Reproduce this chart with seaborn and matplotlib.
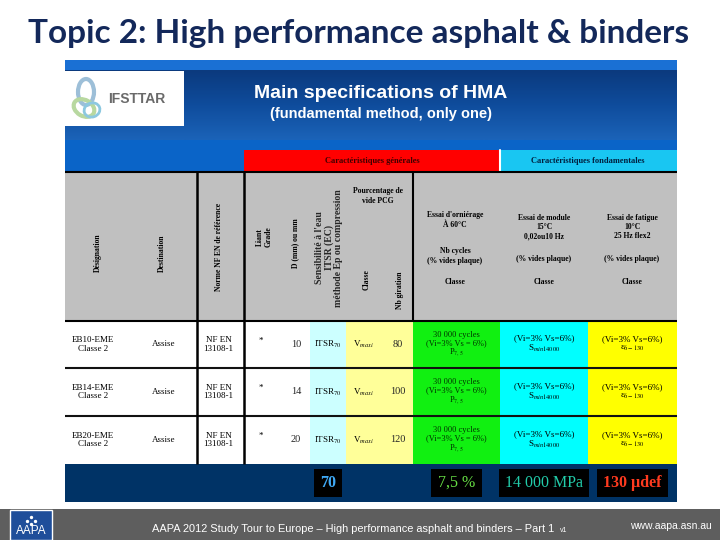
import numpy as np
import matplotlib
matplotlib.use("Agg")
import matplotlib.pyplot as plt
import seaborn as sns
from matplotlib.patches import Rectangle, Ellipse
from matplotlib.colors import ListedColormap, LinearSegmentedColormap

# contenu du tableau (3 enrobés EME classe 2)
designations = ["EB10-EME\nClasse 2", "EB14-EME\nClasse 2", "EB20-EME\nClasse 2"]
destinations = ["Assise", "Assise", "Assise"]
normes = ["NF EN\n13108-1", "NF EN\n13108-1", "NF EN\n13108-1"]
liants = ["*", "*", "*"]
d_max = [10, 14, 20]
itsr = ["ITSR$_{70}$", "ITSR$_{70}$", "ITSR$_{70}$"]
vides = ["V$_{maxi}$", "V$_{maxi}$", "V$_{maxi}$"]
n_giration = [80, 100, 120]
orniere = ["30 000 cycles\n(Vi=3% Vs = 6%)\nP$_{7,5}$"] * 3
module = ["(Vi=3% Vs=6%)\nS$_{min14000}$"] * 3
fatigue = ["(Vi=3% Vs=6%)\nε$_{6-130}$"] * 3

# seuils en bas du tableau
seuils = ["70", "7,5 %", "14 000 MPa", "130 µdef"]
seuil_cols = [5, 7, 8, 9]

# textes
titre = "Topic 2: High performance asphalt & binders"
titre_tab = "Main specifications of HMA"
sous_titre = "(fundamental method, only one)"
pied = "AAPA 2012 Study Tour to Europe – High performance asphalt and binders – Part 1"

# mise en page (pixels)
col_edges = [65, 130, 197, 244, 278, 310, 346, 413, 500, 588, 677]
row_edges = [321, 368, 416, 464]
col_codes = [0, 0, 0, 0, 0, 1, 2, 3, 4, 5]
cell_colours = ["#FFFFFF", "#CCFFFF", "#FFFF99", "#11F011", "#00FFFF", "#FFFF00"]
seuil_colours = ["#3FA9F5", "#66DD44", "#22CCAA", "#FF3B1F"]

sns.set_theme(style="white")
plt.rcParams['font.family'] = ['Liberation Serif', 'DejaVu Sans']
plt.rcParams['mathtext.fontset'] = 'stix'

fig = plt.figure(figsize=(7.2, 5.4), dpi=100)
ax = fig.add_axes([0, 0, 1, 1])
ax.set_facecolor("white")

# titre de la diapo
ax.text(359, 33, titre, fontsize=24, fontweight='bold', color='#13285A',
        family=['Lato', 'DejaVu Sans'], ha='center', va='center')

# panneau bleu
ax.add_patch(Rectangle((65, 60), 612, 442, fc='#0A64C8', ec='none'))
ax.add_patch(Rectangle((65, 60), 612, 10, fc='#1A70D4', ec='none'))
grad = LinearSegmentedColormap.from_list('bandeau', ['#0B3A7E', '#0F4C9C', '#1B63B8'])
ax.imshow(np.linspace(0, 1, 60).reshape(-1, 1), extent=[65, 677, 140, 70],
          cmap=grad, aspect='auto', origin='upper', zorder=1)

# logo IFSTTAR
ax.add_patch(Rectangle((65, 71), 119, 55, fc='white', ec='none', zorder=2))
ax.add_patch(Ellipse((86, 92), 16, 26, fill=False, ec='#9DBFD8', lw=3, zorder=3))
ax.add_patch(Ellipse((84, 108), 22, 16, angle=30, fill=False, ec='#B8D8A0', lw=3, zorder=3))
ax.add_patch(Ellipse((92, 110), 16, 14, angle=-20, fill=False, ec='#8CC8E0', lw=2, zorder=3))
ax.text(137, 99, "IFSTTAR", fontsize=10, fontweight='bold', color='#6A6A6A',
        family=['Liberation Sans'], ha='center', va='center', zorder=3)

ax.text(381, 93, titre_tab, fontsize=14, fontweight='bold', color='white',
        family=['Liberation Sans'], ha='center', va='center', zorder=3)
ax.text(381, 114, sous_titre, fontsize=10.5, fontweight='bold', color='white',
        family=['Liberation Sans'], ha='center', va='center', zorder=3)

# bandeaux rouge / cyan
ax.add_patch(Rectangle((244, 150), 256, 22, fc='#FF0000', ec='none', zorder=2))
ax.add_patch(Rectangle((500, 150), 177, 22, fc='#19C6F2', ec='none', zorder=2))
ax.plot([500, 500], [150, 172], color='white', lw=1.5, zorder=3)
ax.text(372, 161, "Caractéristiques générales", fontsize=6, fontweight='bold',
        color='#400000', ha='center', va='center', zorder=3)
ax.text(588, 161, "Caractéristiques fondamentales", fontsize=6, fontweight='bold',
        color='#002040', ha='center', va='center', zorder=3)

# en-tête gris
ax.add_patch(Rectangle((65, 172), 612, 149, fc='#C0C0C0', ec='none', zorder=2))
hkw = dict(fontsize=5.5, fontweight='bold', color='black', ha='center', va='center', zorder=4)
ax.text(98, 253, "Désignation", rotation=90, **hkw)
ax.text(162, 253, "Destination", rotation=90, **hkw)
ax.text(219, 247, "Norme NF EN de référence", rotation=90, **hkw)
ax.text(264, 237, "Liant\nGrade", rotation=90, **hkw)
ax.text(295, 243, "D (mm) ou mm", rotation=90, **hkw)
ax.text(329, 248, "Sensibilité à l'eau\nITSR (EC)\nméthode Ep ou compression",
        rotation=90, fontsize=7, fontweight='bold', ha='center', va='center',
        linespacing=1.0, zorder=4)
ax.text(378, 196, "Pourcentage de\nvide PCG", **hkw)
ax.text(367, 280, "Classe", rotation=90, **hkw)
ax.text(400, 290, "Nb giration", rotation=90, **hkw)
ax.text(455, 220, "Essai d'orniérage\nÀ 60°C", **hkw)
ax.text(455, 256, "Nb cycles\n(% vides plaque)", **hkw)
ax.text(455, 282, "Classe", **hkw)
ax.text(544, 227, "Essai de module\n15°C\n0,02ou10 Hz", **hkw)
ax.text(544, 259, "(% vides plaque)", **hkw)
ax.text(544, 282, "Classe", **hkw)
ax.text(632, 227, "Essai de fatigue\n10°C\n25 Hz flex2", **hkw)
ax.text(632, 259, "(% vides plaque)", **hkw)
ax.text(632, 282, "Classe", **hkw)

# cellules de données
codes = np.tile(col_codes, (len(designations), 1))
ax.pcolormesh(col_edges, row_edges, codes, cmap=ListedColormap(cell_colours),
              vmin=-0.5, vmax=len(cell_colours) - 0.5, zorder=2)

centres = [(a + b) / 2 for a, b in zip(col_edges[:-1], col_edges[1:])]
tkw = dict(fontsize=6.5, color='black', ha='center', va='center', zorder=4, linespacing=1.1)
for i in range(len(designations)):
    y = (row_edges[i] + row_edges[i + 1]) / 2
    ax.text(93, y, designations[i], **tkw)
    ax.text(centres[1], y, destinations[i], **tkw)
    ax.text(centres[2] - 2, y, normes[i], **tkw)
    ax.text(centres[3], y - 4, liants[i], **tkw)
    ax.text(centres[4] + 2, y, str(d_max[i]), fontsize=7.5, ha='center', va='center', zorder=4)
    ax.text(centres[5], y, itsr[i], **tkw)
    ax.text(363, y, vides[i], **tkw)
    ax.text(398, y, str(n_giration[i]), fontsize=7.5, ha='center', va='center', zorder=4)
    ax.text(centres[7], y, orniere[i], fontsize=6, color='#003300', ha='center',
            va='center', zorder=4, linespacing=1.0)
    ax.text(centres[8], y, module[i], **tkw)
    ax.text(centres[9], y, fatigue[i], **tkw)

# traits du tableau
ax.hlines([172, 321], 65, 677, color='black', lw=1.5, zorder=5)
ax.hlines(row_edges[1:3], 65, 677, color='#111111', lw=1.5, zorder=5)
ax.vlines([197, 244], 172, 464, color='black', lw=1.8, zorder=5)
ax.vlines([413], 172, 321, color='black', lw=1.5, zorder=5)

# bandeau des seuils
ax.add_patch(Rectangle((65, 464), 612, 38, fc='#003366', ec='none', zorder=2))
for s, c, col in zip(seuils, seuil_cols, seuil_colours):
    ax.text(centres[c], 483, s, fontsize=11.5, color=col,
            fontweight='bold' if s in ("70", "130 µdef") else 'normal',
            ha='center', va='center',
            bbox=dict(boxstyle='square,pad=0.4', fc='black', ec='none'), zorder=4)

# pied de page
ax.add_patch(Rectangle((0, 509), 720, 31, fc='#5E5E5E', ec='none', zorder=2))
ax.add_patch(Rectangle((10, 510), 42, 30, fc='#1F4E9A', ec='white', lw=1, zorder=3))
ax.text(31, 531, "AAPA", fontsize=8.5, color='white', family=['Liberation Sans'],
        ha='center', va='center', zorder=4)
ax.scatter([27, 31, 35, 31], [521, 517, 521, 524], s=2, color='white', zorder=4)
ax.text(152, 529, pied, fontsize=7.9, color='white', family=['Liberation Sans'],
        ha='left', va='center', zorder=4)
ax.text(560, 530, "v1", fontsize=5, color='white', family=['Liberation Sans'],
        ha='left', va='center', zorder=4)
ax.text(712, 526, "www.aapa.asn.au", fontsize=7.5, color='white',
        family=['Liberation Sans'], ha='right', va='center', zorder=4)

ax.set_xlim(0, 720)
ax.set_ylim(540, 0)
ax.axis('off')
fig.savefig("out.png", dpi=100)
